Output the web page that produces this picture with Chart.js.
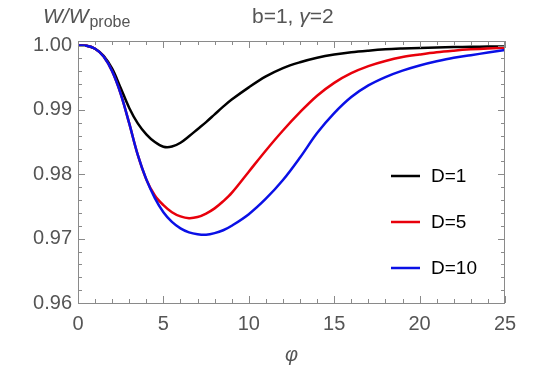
<!DOCTYPE html>
<html>
<head>
<meta charset="utf-8">
<script src="https://cdn.jsdelivr.net/npm/chart.js@4.4.0/dist/chart.umd.min.js"></script>
<style>
  html, body { margin: 0; padding: 0; background: #fff; }
  #wrap { width: 540px; height: 368px; }
</style>
</head>
<body>
<div id="wrap"><canvas id="chart"></canvas></div>
<script>
// values
const phi = [0, 0.5, 1, 1.5, 2, 2.5, 3, 3.5, 4, 4.5, 5, 5.5, 6, 6.5, 7, 7.5, 8, 8.5, 9,
             10, 11, 12, 13, 14, 15, 16, 17, 18, 19, 20, 21, 22, 23, 24, 25];
const wD1 = [1.0000, 0.99995, 0.9995, 0.9984, 0.9964, 0.9934, 0.9903, 0.9879, 0.9862, 0.9850,
             0.98428, 0.98430, 0.9849, 0.9859, 0.9870, 0.9881, 0.9893, 0.9905, 0.9916,
             0.9935, 0.9952, 0.9965, 0.9974, 0.9981, 0.9986, 0.99895, 0.9992, 0.9994,
             0.99953, 0.99963, 0.9997, 0.99975, 0.9998, 0.99983, 0.99985];
const wD5 = [1.0000, 0.99995, 0.9995, 0.9983, 0.9960, 0.9925, 0.9879, 0.9830, 0.9792, 0.9767,
             0.9752, 0.9741, 0.97345, 0.97318, 0.97335, 0.9739, 0.9747, 0.9758, 0.9771,
             0.9804, 0.9837, 0.9868, 0.98965, 0.9922, 0.9942, 0.9957, 0.9968, 0.9976,
             0.9982, 0.9986, 0.99895, 0.9992, 0.9994, 0.99955, 0.99965];
const wD10 = [1.0000, 0.99995, 0.9995, 0.9983, 0.9960, 0.9925, 0.9879, 0.9830, 0.9792, 0.9763,
              0.9741, 0.9726, 0.9716, 0.97098, 0.97068, 0.97060, 0.97085, 0.9713, 0.9720,
              0.9738, 0.9762, 0.9791, 0.9826, 0.9864, 0.9895, 0.9920, 0.9938, 0.9951,
              0.9961, 0.9969, 0.99755, 0.9981, 0.9985, 0.9989, 0.9993];

const seriesNames = ['D=1', 'D=5', 'D=10'];
const seriesColors = ['#000000', '#e8000b', '#0a10e6'];

const xTicks = [0, 5, 10, 15, 20, 25];
const xMinor = [1, 2, 3, 4, 6, 7, 8, 9, 11, 12, 13, 14, 16, 17, 18, 19, 21, 22, 23, 24];
const yTicks = [0.96, 0.97, 0.98, 0.99, 1.00];
const yMinor = [0.962, 0.964, 0.966, 0.968, 0.972, 0.974, 0.976, 0.978,
                0.982, 0.984, 0.986, 0.988, 0.992, 0.994, 0.996, 0.998];

const FONT = '"Liberation Sans", Arial, sans-serif';
const GRAY = '#555555';

function toPoints(ys) {
    return phi.map((x, i) => ({ x: x, y: ys[i] }));
}

const framePlugin = {
    id: 'frame',
    afterDatasetsDraw(chart) {
        const ctx = chart.ctx;
        const a = chart.chartArea;
        const xs = chart.scales.x, ys = chart.scales.y;
        ctx.save();
        ctx.strokeStyle = '#8a8a8a';
        ctx.lineWidth = 1;
        ctx.strokeRect(a.left + 0.5, a.top + 0.5, a.right - a.left - 1, a.bottom - a.top);

        function xt(v, len) {
            const px = Math.round(xs.getPixelForValue(v)) + 0.5;
            ctx.beginPath();
            ctx.moveTo(px, a.bottom); ctx.lineTo(px, a.bottom - len);
            ctx.moveTo(px, a.top); ctx.lineTo(px, a.top + len);
            ctx.stroke();
        }
        function yt(v, len) {
            const py = Math.round(ys.getPixelForValue(v)) + 0.5;
            ctx.beginPath();
            ctx.moveTo(a.left, py); ctx.lineTo(a.left + len, py);
            ctx.moveTo(a.right, py); ctx.lineTo(a.right - len, py);
            ctx.stroke();
        }
        xTicks.forEach(v => xt(v, 7));
        xMinor.forEach(v => xt(v, 4));
        yTicks.forEach(v => yt(v, 7));
        yMinor.forEach(v => yt(v, 4));

        // legend
        ctx.lineWidth = 2.5;
        ctx.textBaseline = 'middle';
        ctx.textAlign = 'left';
        ctx.font = '19px ' + FONT;
        const legY = [176, 222, 268];
        seriesNames.forEach((n, i) => {
            ctx.strokeStyle = seriesColors[i];
            ctx.beginPath();
            ctx.moveTo(391, legY[i]); ctx.lineTo(420, legY[i]);
            ctx.stroke();
            ctx.fillStyle = '#000';
            ctx.fillText(n, 431, legY[i] + 1);
        });

        // title
        ctx.fillStyle = GRAY;
        ctx.textBaseline = 'alphabetic';
        let x = 252;
        const by = 23;
        ctx.font = '21px ' + FONT;
        ctx.fillText('b=1, ', x, by);
        x += ctx.measureText('b=1, ').width;
        ctx.font = 'italic 21px ' + FONT;
        ctx.fillText('\u03b3', x, by);
        x += ctx.measureText('\u03b3').width;
        ctx.font = '21px ' + FONT;
        ctx.fillText('=2', x, by);

        // y label
        x = 43;
        ctx.font = 'italic 21px ' + FONT;
        ctx.fillText('W/W', x, by);
        x += ctx.measureText('W/W').width + 1;
        ctx.font = '16px ' + FONT;
        ctx.fillText('probe', x, by + 4);
        ctx.restore();
    }
};

const ctx = document.getElementById('chart').getContext('2d');
new Chart(ctx, {
    type: 'line',
    data: {
        datasets: [
            { label: seriesNames[0], data: toPoints(wD1), borderColor: seriesColors[0], order: 3 },
            { label: seriesNames[1], data: toPoints(wD5), borderColor: seriesColors[1], order: 2 },
            { label: seriesNames[2], data: toPoints(wD10), borderColor: seriesColors[2], order: 1 }
        ]
    },
    options: {
        responsive: true,
        maintainAspectRatio: false,
        animation: false,
        layout: { padding: { left: 0, right: 35, top: 41, bottom: 0 } },
        elements: {
            line: { borderWidth: 2.5, tension: 0.35, fill: false },
            point: { radius: 0 }
        },
        plugins: {
            legend: { display: false },
            tooltip: { enabled: false }
        },
        scales: {
            x: {
                type: 'linear',
                min: 0,
                max: 25,
                grid: { display: false, drawTicks: false },
                border: { display: false },
                afterBuildTicks: s => { s.ticks = xTicks.map(v => ({ value: v })); },
                afterFit: s => { s.height = 65; },
                ticks: {
                    padding: 9,
                    color: GRAY,
                    font: { family: FONT, size: 20 },
                    maxRotation: 0
                },
                title: {
                    display: true,
                    text: '\u03c6',
                    color: GRAY,
                    font: { family: FONT, size: 20, style: 'italic' },
                    padding: { top: 0, bottom: 1 }
                }
            },
            y: {
                type: 'linear',
                min: 0.96,
                max: 1.0007,
                grid: { display: false, drawTicks: false },
                border: { display: false },
                afterBuildTicks: s => { s.ticks = yTicks.map(v => ({ value: v })); },
                afterFit: s => { s.width = 78; },
                ticks: {
                    padding: 6,
                    color: GRAY,
                    font: { family: FONT, size: 20 },
                    callback: v => v.toFixed(2)
                }
            }
        }
    },
    plugins: [framePlugin]
});
</script>
</body>
</html>
